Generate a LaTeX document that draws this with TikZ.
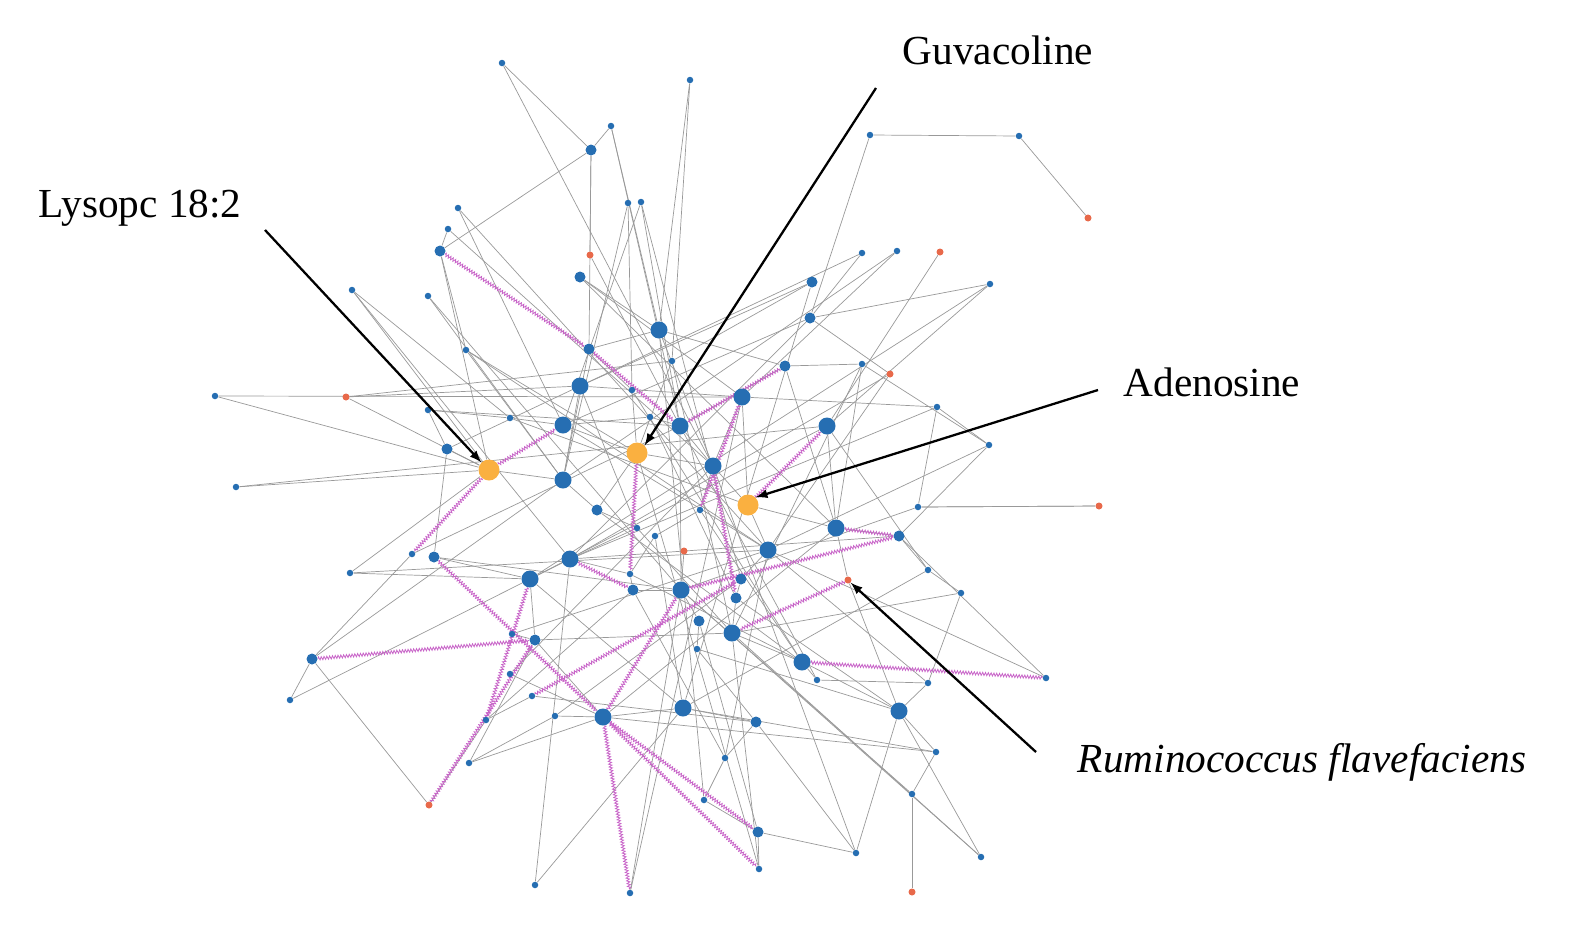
\documentclass[tikz,border=0pt]{standalone}
\usepackage{fontspec}
\setmainfont{Liberation Serif}
\usetikzlibrary{decorations.pathmorphing}
\pgfdeclarelayer{bg}\pgfsetlayers{bg,main}
\definecolor{nb}{RGB}{38,110,178}
\definecolor{no}{RGB}{250,176,64}
\definecolor{nr}{RGB}{232,105,74}
\definecolor{pk}{RGB}{200,100,200}
\tikzset{
 s/.style={circle,fill=nb,inner sep=0,minimum size=0.13cm},
 m/.style={circle,fill=nb,inner sep=0,minimum size=0.22cm},
 l/.style={circle,fill=nb,inner sep=0,minimum size=0.34cm},
 o/.style={circle,fill=no,inner sep=0,minimum size=0.42cm},
 r/.style={circle,fill=nr,inner sep=0,minimum size=0.14cm},
 e/.style={draw=gray!80,line width=0.4pt},
 p/.style={draw=pk,line width=0.45pt,decorate,decoration={zigzag,amplitude=0.9pt,segment length=1.6pt}},
 lab/.style={font=\fontsize{23.5}{26}\selectfont,inner sep=0},
 ar/.style={-latex,line width=1.3pt,black}
}
\begin{document}
\begin{tikzpicture}[x=0.02cm,y=-0.02cm]
\foreach \n/\x/\y/\t in {
n1/502/63/s,n2/690/80/s,n3/611/126/s,n4/591/150/m,n5/870/135/s,n6/1019/136/s,r1/1088/218/r,
n7/458/208/s,n8/448/229/s,n9/628/203/s,n10/641/202/s,n11/440/251/m,r2/590/255/r,n12/580/277/m,
n13/862/253/s,n14/897/251/s,r3/940/252/r,n15/352/290/s,n16/428/296/s,n17/812/282/m,n18/990/284/s,
n19/810/318/m,L1/659/330/l,n20/589/349/m,n21/466/350/s,n22/672/361/s,n23/785/366/m,n24/862/364/s,
r4/890/374/r,n25/215/396/s,r5/346/397/r,L2/580/386/l,L3/742/397/l,n26/632/390/s,n27/428/410/s,
n28/937/407/s,L4/563/425/l,n29/510/418/s,n30/650/417/s,L5/680/426/l,L6/827/426/l,n31/447/449/m,
n32/989/445/s,L7/563/480/l,L8/713/466/l,n33/236/487/s,n34/597/510/m,n35/700/510/s,n36/637/528/s,
n37/655/536/s,L9/836/528/l,n38/918/507/s,n39/899/536/m,r6/1099/506/r,n40/412/554/s,n41/434/557/m,
L10/570/559/l,L11/768/550/l,r7/684/551/r,n42/350/573/s,L12/530/579/l,n43/630/574/s,n44/741/579/m,
r8/848/580/r,n45/928/570/s,n46/633/590/m,L13/681/590/l,n47/736/598/m,n48/961/593/s,n49/512/634/s,
n50/535/640/m,n51/699/621/m,L14/732/633/l,n52/312/659/m,n53/697/649/s,L15/802/662/l,n54/1046/678/s,
n55/510/674/s,n56/817/680/s,n57/928/683/s,n58/290/700/s,n59/532/696/s,L16/603/717/l,L17/683/708/l,
L18/899/711/l,n60/555/716/s,n61/486/720/s,n62/756/722/m,n63/469/763/s,n64/725/758/s,n65/936/752/s,
r9/429/805/r,n66/704/800/s,n67/912/794/s,n68/758/832/m,n69/856/853/s,n70/981/857/s,n71/535/885/s,
n72/630/893/s,n73/759/869/s,r10/912/892/r}
 \node[\t] (\n) at (\x,\y) {};
\node[o] (O1) at (489,470) {};
\node[o] (O2) at (637,453) {};
\node[o] (O3) at (748,505) {};
\begin{pgfonlayer}{bg}
\foreach \a/\b in {n1/n4,n2/n22,n3/n4,n3/L5,n4/n11,n4/n20,n3/L1,n5/n6,n6/r1,n5/n19,n7/L4,n8/L8,
n9/n26,n10/L4,n10/L5,n11/O1,n11/n21,n12/L1,n12/L3,n13/n19,n14/L3,r3/L6,n15/O1,n15/n29,n16/L7,
n17/L2,n17/n22,n18/L6,n18/n19,n19/L4,L1/n20,L1/L8,L1/n23,n20/n26,n21/L7,n22/O2,n23/L9,n23/L5,
n24/n32,r4/L11,n25/O1,r5/L2,r5/O1,L2/L3,L2/L7,L3/L8,L3/n28,n26/O2,n27/n31,n27/n29,n28/n38,L4/n29,
L4/O2,n30/L5,L5/L8,L6/L9,L6/n45,n31/n41,n31/O1,n32/n39,O1/L7,O2/L8,O2/n34,O3/L8,O3/L9,O3/L11,
L7/n34,L8/n35,n33/O1,n34/n36,n35/n37,n36/L10,n37/n43,L9/n39,n38/r6,n39/n45,n40/n52,n41/L12,
L10/L12,L10/n43,L11/n44,r7/L13,n42/L12,L12/n50,n43/n46,n44/n47,r8/L9,r8/L18,n45/n48,n46/L13,
L13/n51,n47/L14,n48/n57,n49/n50,n50/L16,n51/n53,L14/L15,n52/n58,n52/r9,n53/n62,L15/n56,n54/n39,
n55/L16,n56/n57,n57/L18,n59/n61,L16/L17,L16/n60,L17/n62,L18/n65,n60/n63,n61/r9,n62/n64,n63/L16,
n64/n66,n65/n67,n66/n68,n67/r10,n68/n69,n68/n73,n69/L18,n70/L18,n71/L10,n72/L13,n73/L14,
n1/L8,n7/L11,n15/L10,n16/L13,n21/L11,n25/L3,n33/L6,n42/L11,n58/L12,n27/L5,n24/L14,r4/L10,n14/L7,
n13/L2,n18/L12,n38/L13,n45/L17,n48/L14,n65/L16,n66/L1,n71/L17,n72/L3,n73/O2,n69/L8,n70/L13,
n9/L7,n10/n44,n2/L1,n12/L9,n17/L17,n19/L10,n22/L14,n26/L15,n30/n47,L2/n36,L4/L11,L5/L13,L6/L12,
n28/L10,n32/L11,n39/L10,L9/L16,n40/L5,n41/L13,n42/O1,n49/L11,n50/L14,n52/L7,n55/L8,n59/n62,
L12/L17,n60/n44,n61/n46,n63/n50,L17/n65,L18/n53,n57/L11,n56/L5,n54/L11,r6/n38,n36/L14,n35/L15,
n34/L15,n37/L17,n43/L18,n46/n64,L13/n67,n47/L18,n51/n68,n62/n69,L14/n70,n64/L11,r2/n4,r2/L5,
n8/n11,n20/L7,n21/O2,n29/O3,n30/L4,n31/L2,r5/n22,n23/n24,r4/n19,L3/O3,n24/L9,n32/n28}
 \draw[e] (\a)--(\b);
\foreach \a/\b in {n11/n20,n52/n50,n41/L16,L16/n73,L16/n72,L16/L13,r9/n50,L13/n39,L15/n54,O1/L4,
O1/n40,L3/n35,n23/L5,r8/L14,L9/n39,O2/n43,n59/n44,n61/L12,L16/n68,n20/L5,O3/L6,L8/n47,L10/n46}
 \draw[p] (\a)--(\b);
\end{pgfonlayer}
\node[lab] (tg) at (998,50) {Guvacoline};
\node[lab] (tl) at (140,208) {Lysopc 18:2};
\node[lab] (ta) at (1212,382) {Adenosine};
\node[lab] (tr) at (1302,762) {\itshape Ruminococcus flavefaciens};
\coordinate (ag) at (876,88); \coordinate (al) at (265,230);
\coordinate (aa) at (1098,390); \coordinate (arr) at (1036,752);
\draw[ar] (ag) -- (O2.north east);
\draw[ar] (al) -- (O1.north west);
\draw[ar] (aa) -- (O3.north east);
\draw[ar] (arr) -- (r8.south east);
\pgfresetboundingbox
\useasboundingbox (0,0) rectangle (1592,947);
\end{tikzpicture}
\end{document}
